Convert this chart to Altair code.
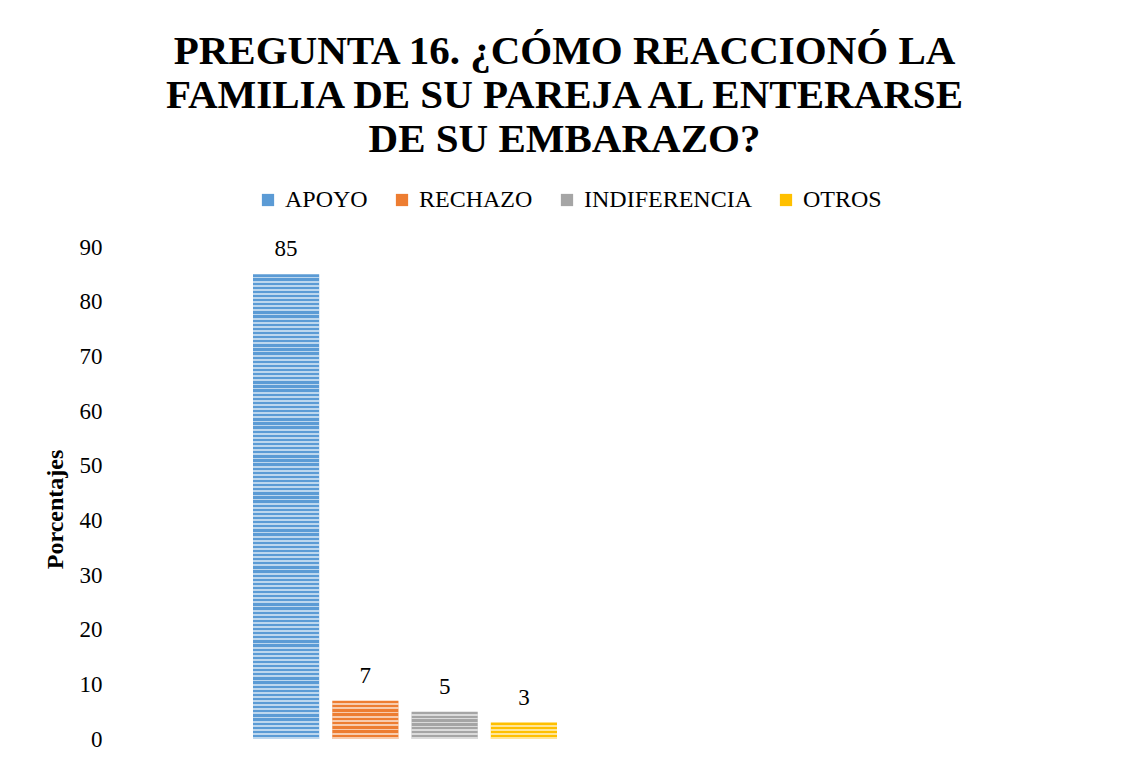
import altair as alt
import pandas as pd

series = ["APOYO", "RECHAZO", "INDIFERENCIA", "OTROS"]
values = [85, 7, 5, 3]
colors = ["#5B9BD5", "#ED7D31", "#A5A5A5", "#FFC000"]
y_ticks = [0, 10, 20, 30, 40, 50, 60, 70, 80, 90]
title_lines = [
    "PREGUNTA 16. ¿CÓMO REACCIONÓ LA",
    "FAMILIA DE SU PAREJA AL ENTERARSE",
    "DE SU EMBARAZO?",
]
y_title = "Porcentajes"

df = pd.DataFrame({"serie": series, "valor": values})

PLOT_W = 1000
PLOT_H = 492
FONT = "Liberation Serif"

x_enc = alt.X(
    "serie:N",
    sort=series,
    axis=None,
    scale=alt.Scale(paddingInner=0.165, paddingOuter=0, range=[143, 447]),
)
y_enc = alt.Y(
    "valor:Q",
    scale=alt.Scale(domain=[0, 90], nice=False),
    axis=alt.Axis(
        values=y_ticks,
        title=y_title,
        grid=False,
        domain=False,
        ticks=False,
        labelFont=FONT,
        labelFontSize=23,
        labelColor="#000000",
        labelPadding=8,
        titleFont=FONT,
        titleFontSize=24,
        titleFontWeight="bold",
        titleColor="#000000",
        titlePadding=12,
        titleY=PLOT_H / 2 + 16,
    ),
)

base = alt.Chart(df)

bars = base.mark_bar().encode(
    x=x_enc,
    y=y_enc,
    color=alt.Color(
        "serie:N",
        sort=series,
        scale=alt.Scale(domain=series, range=colors),
        legend=alt.Legend(
            title=None,
            orient="none",
            direction="horizontal",
            legendX=146,
            legendY=-59,
            symbolType="square",
            symbolSize=150,
            symbolStrokeWidth=0,
            labelFont=FONT,
            labelFontSize=24,
            labelColor="#000000",
            labelOffset=5,
            labelLimit=400,
            columnPadding=22,
            padding=0,
        ),
    ),
)

# horizontal stripe overlay, one layer per bar
px_per_unit = PLOT_H / 90.0
period = 4.1
stripe_layers = []
for s, v in zip(series, values):
    n = max(1, round(v * px_per_unit / period))
    stops = []
    for i in range(n):
        a = i / n
        b = (i + 0.55) / n
        c = (i + 1) / n
        stops += [
            alt.GradientStop(offset=a, color="rgba(255,255,255,0)"),
            alt.GradientStop(offset=b, color="rgba(255,255,255,0)"),
            alt.GradientStop(offset=b, color="rgba(255,255,255,0.6)"),
            alt.GradientStop(offset=c, color="rgba(255,255,255,0.6)"),
        ]
    grad = alt.LinearGradient(gradient="linear", x1=0, x2=0, y1=0, y2=1, stops=stops)
    layer = (
        base.transform_filter(alt.datum.serie == s)
        .mark_bar(color=grad)
        .encode(x=x_enc, y=y_enc)
    )
    stripe_layers.append(layer)

labels = base.mark_text(
    baseline="bottom", dy=-13, font=FONT, fontSize=23, color="#000000"
).encode(x=x_enc, y=y_enc, text=alt.Text("valor:Q"))

chart = (
    alt.layer(bars, *stripe_layers, labels)
    .properties(
        width=PLOT_W,
        height=PLOT_H,
        background="#FFFFFF",
        title=alt.TitleParams(
            text=title_lines,
            font=FONT,
            fontSize=41,
            fontWeight="bold",
            color="#000000",
            lineHeight=44,
            anchor="middle",
            frame="bounds",
            offset=27,
            dx=-12,
        ),
        padding={"left": 35, "top": 23, "right": 5, "bottom": 5},
    )
    .configure_view(strokeWidth=0, stroke="transparent")
)

chart.save("out.html", embed_options={"renderer": "svg", "actions": False})
